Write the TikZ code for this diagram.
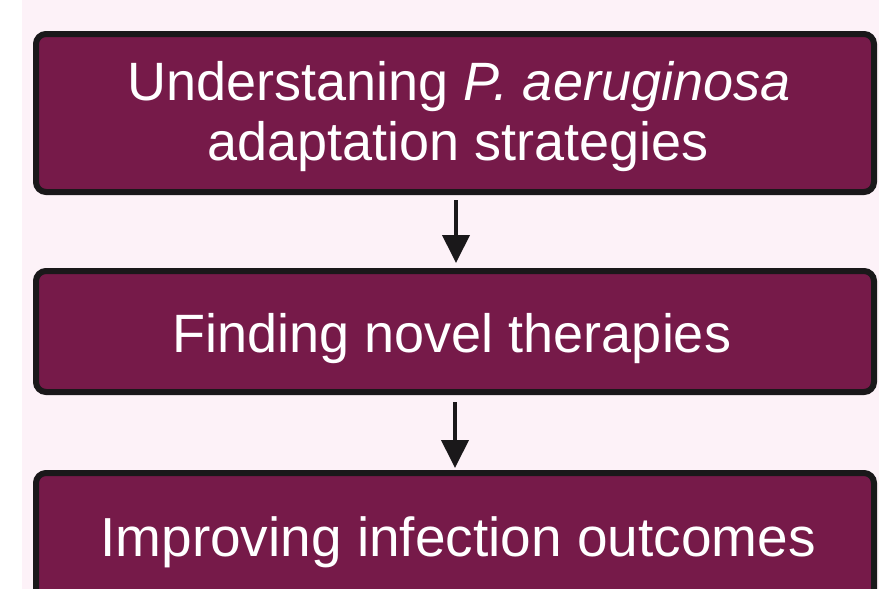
\documentclass[tikz,border=0pt]{standalone}
\usepackage{fontspec}
\setmainfont{Liberation Sans}
\usetikzlibrary{arrows.meta}
\definecolor{pagebg}{RGB}{253,242,248}
\definecolor{boxfill}{RGB}{118,26,73}
\definecolor{boxline}{RGB}{26,24,26}
\tikzset{
  stepbox/.style={draw=boxline, fill=boxfill, line width=6pt, rounded corners=10pt,
    rectangle, inner sep=0pt, minimum width=838pt},
  boxtext/.style={text=white, anchor=base, inner sep=0pt, font=\fontsize{54}{54}\selectfont},
  flow/.style={draw=boxline, line width=4pt, -{Triangle[length=28pt,width=27pt]}}
}
\begin{document}
\begin{tikzpicture}[x=1pt,y=-1pt]
  \useasboundingbox (0,0) rectangle (879,589);
  \clip (0,0) rectangle (879,589);
  % page background with a plain strip on the left
  \fill[white] (0,0) rectangle (22,589);
  \fill[pagebg] (22,0) rectangle (879,589);

  % the three stages
  \node[stepbox, minimum height=158pt] (b1) at (455,113) {};
  \node[stepbox, minimum height=121pt] (b2) at (455,331.5) {};
  \node[stepbox, minimum height=130pt] (b3) at (455,538) {};

  \node[boxtext] (t1a) at (459,100) {Understaning \textit{P. aeruginosa}};
  \node[boxtext] (t1b) at (458,160) {adaptation strategies};
  \node[boxtext] (t2) at (452,352) {Finding novel therapies};
  \node[boxtext, font=\fontsize{55}{55}\selectfont] (t3) at (458,556) {Improving infection outcomes};

  % flow between stages
  \draw[flow, shorten <=5pt, shorten >=5pt] (b1.south -| 456,0) -- (b2.north -| 456,0);
  \draw[flow, shorten <=7pt, shorten >=2pt] (b2.south -| 455,0) -- (b3.north -| 455,0);
\end{tikzpicture}
\end{document}
